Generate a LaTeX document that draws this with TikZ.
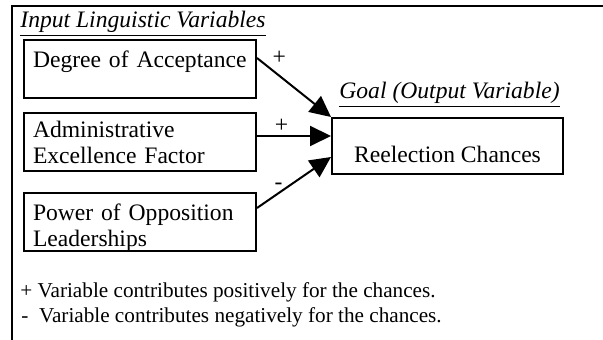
\documentclass[tikz,border=0pt]{standalone}
\usepackage{fontspec}
\setmainfont{Liberation Serif}
\usetikzlibrary{arrows.meta}

\begin{document}
\begin{tikzpicture}[x=0.5pt,y=-0.5pt,>={Triangle[length=10.5pt,width=10pt]}]
\tikzstyle{invar}=[draw,line width=1pt,anchor=north west,inner ysep=0pt,inner xsep=4.5pt,text width=107pt,align=left,text height=14pt,text depth=15pt,font=\fontsize{11.8}{13}\selectfont]
\tikzstyle{outvar}=[draw,line width=1pt,anchor=north west,inner sep=0pt,minimum width=115.5pt,text height=22.5pt,text depth=5.5pt,font=\fontsize{11.8}{13}\selectfont]
\tikzstyle{head}=[anchor=base west,inner sep=0pt,font=\fontsize{11.8}{13}\selectfont\itshape]
\tikzstyle{note}=[anchor=base west,inner sep=0pt,font=\fontsize{10.6}{12}\selectfont]
\tikzstyle{link}=[->,line width=1pt]
\tikzstyle{sign}=[inner sep=1pt,font=\fontsize{11.8}{13}\selectfont]
\useasboundingbox (0,0) rectangle (603,340);
% open frame: top and left rules only
\draw[line width=1.2pt] (603,6) -- (12,6) -- (12,340);
% inputs
\node[head] (inhead) at (20,28) {\underline{Input Linguistic Variables}};
\node[invar] (accept) at (23,39) {Degree of Acceptance};
\node[invar,text height=12.5pt,text depth=16.5pt] (admin) at (23,112) {Administrative\\Excellence Factor};
\node[invar] (oppos) at (23,192) {Power of Opposition\\Leaderships};
% output
\node[head] (outhead) at (339,99) {\underline{Goal (Output Variable)}};
\node[outvar] (reelect) at (331,117) {Reelection Chances};
% influences
\draw[link] ([yshift=-9.5pt]accept.north east) -- node[sign,pos=0.3,above=4.3pt]{+} (reelect.north west);
\draw[link] ([yshift=-12pt]admin.north east) -- node[sign,pos=0.33,above=0pt]{+} ([yshift=-9.5pt]reelect.north west);
\draw[link] ([yshift=-8pt]oppos.north east) -- node[sign,pos=0.29,above=0.3pt]{-} ([yshift=-20pt]reelect.north west);
% legend
\node[note] (pos) at (20,298) {+ Variable contributes positively for the chances.};
\node[note] (neg) at (21,323) {-\ \ Variable contributes negatively for the chances.};
\end{tikzpicture}
\end{document}
